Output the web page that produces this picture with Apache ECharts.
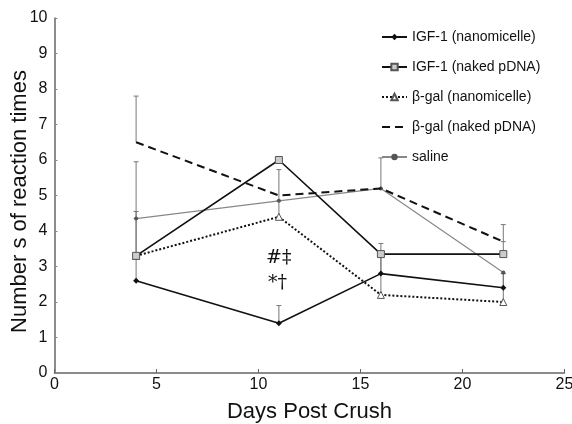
<!DOCTYPE html>
<html><head><meta charset="utf-8">
<script src="https://cdn.jsdelivr.net/npm/echarts@6/dist/echarts.min.js"></script>
<style>html,body{margin:0;padding:0;background:#fff}#c{width:572px;height:424px}</style>
</head><body><div id="c"></div>
<script>
const days = [4, 11, 16, 22];
const igfNano = [2.6, 1.4, 2.8, 2.4];
const igfNanoErr = [0.7, 0.5, 0.55, 0.4];
const igfNaked = [3.3, 6.0, 3.35, 3.35];
const igfNakedErr = [1.05, 0, 0.3, 0.35];
const bgalNano = [3.3, 4.4, 2.2, 2.0];
const bgalNanoErr = [1.25, 0.45, 1.15, 0.8];
const bgalNaked = [6.5, 5.0, 5.2, 3.7];
const bgalNakedErr = [1.3, 0, 0, 0.48];
const saline = [4.35, 4.85, 5.2, 2.83];
const salineErr = [1.6, 0.88, 0.86, 0];
const names = ['IGF-1 (nanomicelle)', 'IGF-1 (naked pDNA)', 'β-gal (nanomicelle)', 'β-gal (naked pDNA)', 'saline'];
const xTicks = [0, 5, 10, 15, 20, 25];
const yTicks = [0, 1, 2, 3, 4, 5, 6, 7, 8, 9, 10];

const pts = v => days.map((d, i) => [d, v[i]]);
const errs = (v, e) => days.map((d, i) => [d, v[i], v[i] + e[i]]).filter(r => r[2] > r[1]);

function errSeries(v, e) {
  return {
    type: 'custom', silent: true, z: 1,
    data: errs(v, e),
    renderItem: function (params, api) {
      const b = api.coord([api.value(0), api.value(1)]);
      const t = api.coord([api.value(0), api.value(2)]);
      const st = { stroke: '#777', lineWidth: 1 };
      return { type: 'group', children: [
        { type: 'line', shape: { x1: b[0], y1: b[1], x2: t[0], y2: t[1] }, style: st },
        { type: 'line', shape: { x1: t[0] - 2.5, y1: t[1], x2: t[0] + 2.5, y2: t[1] }, style: st }
      ]};
    }
  };
}

const chart = echarts.init(document.getElementById('c'), null, { renderer: 'canvas' });
const font = 'Liberation Sans, Arial, sans-serif';
chart.setOption({
  animation: false,
  backgroundColor: '#fff',
  textStyle: { fontFamily: font },
  grid: { left: 54.5, right: 7.5, top: 18, bottom: 51, containLabel: false, outerBoundsMode: 'none' },
  xAxis: {
    type: 'value', min: xTicks[0], max: xTicks[xTicks.length - 1], interval: 5,
    name: 'Days Post Crush', nameLocation: 'middle', nameGap: 28, nameMoveOverlap: false,
    nameTextStyle: { fontSize: 22, color: '#111', fontFamily: font },
    axisLine: { lineStyle: { color: '#666', width: 1.5 } },
    axisTick: { inside: true, length: 4, lineStyle: { color: '#666' } },
    axisLabel: { fontSize: 16, color: '#111', margin: 4 },
    splitLine: { show: false }
  },
  yAxis: {
    type: 'value', min: yTicks[0], max: yTicks[yTicks.length - 1], interval: 1,
    name: 'Number s of reaction times', nameLocation: 'middle', nameGap: 24, nameMoveOverlap: false,
    nameTextStyle: { fontSize: 22, color: '#111', fontFamily: font, padding: [0, 12, 0, 0] },
    axisLine: { show: true, lineStyle: { color: '#666', width: 1.5 } },
    axisTick: { show: true, inside: true, length: 3, lineStyle: { color: '#888' } },
    axisLabel: { fontSize: 16, color: '#111', margin: 7 },
    splitLine: { show: false }
  },
  legend: {
    orient: 'vertical', left: 376, top: 25,
    itemWidth: 25, itemHeight: 8, itemGap: 16,
    textStyle: { fontSize: 14, color: '#111', fontFamily: font },
    data: names
  },
  graphic: [
    { type: 'text', left: 266, top: 249, style: { text: '#‡', font: '19px "DejaVu Serif", serif', fill: '#111' } },
    { type: 'text', left: 268, top: 274, style: { text: '*†', font: '19px "DejaVu Serif", serif', fill: '#111' } }
  ],
  series: [
    { name: names[4], type: 'line', data: pts(saline), z: 2,
      lineStyle: { color: '#888', width: 1.2 }, itemStyle: { color: '#555' },
      symbol: 'circle', symbolSize: 4 },
    { name: names[3], type: 'line', data: pts(bgalNaked), z: 3,
      lineStyle: { color: '#111', width: 2, type: [8, 5] }, itemStyle: { color: '#444' },
      symbol: 'path://M-1,-1L1,1M-1,1L1,-1', symbolSize: 7 },
    { name: names[2], type: 'line', data: pts(bgalNano), z: 3,
      lineStyle: { color: '#111', width: 2, type: [2, 2] }, itemStyle: { color: '#fff', borderColor: '#555', borderWidth: 1 },
      symbol: 'triangle', symbolSize: 7 },
    { name: names[1], type: 'line', data: pts(igfNaked), z: 4,
      lineStyle: { color: '#111', width: 1.6 }, itemStyle: { color: '#ccc', borderColor: '#555', borderWidth: 1 },
      symbol: 'rect', symbolSize: 7 },
    { name: names[0], type: 'line', data: pts(igfNano), z: 5,
      lineStyle: { color: '#111', width: 1.6 }, itemStyle: { color: '#111' },
      symbol: 'diamond', symbolSize: 6 },
    errSeries(igfNano, igfNanoErr),
    errSeries(igfNaked, igfNakedErr),
    errSeries(bgalNano, bgalNanoErr),
    errSeries(bgalNaked, bgalNakedErr),
    errSeries(saline, salineErr)
  ]
});
</script></body></html>
